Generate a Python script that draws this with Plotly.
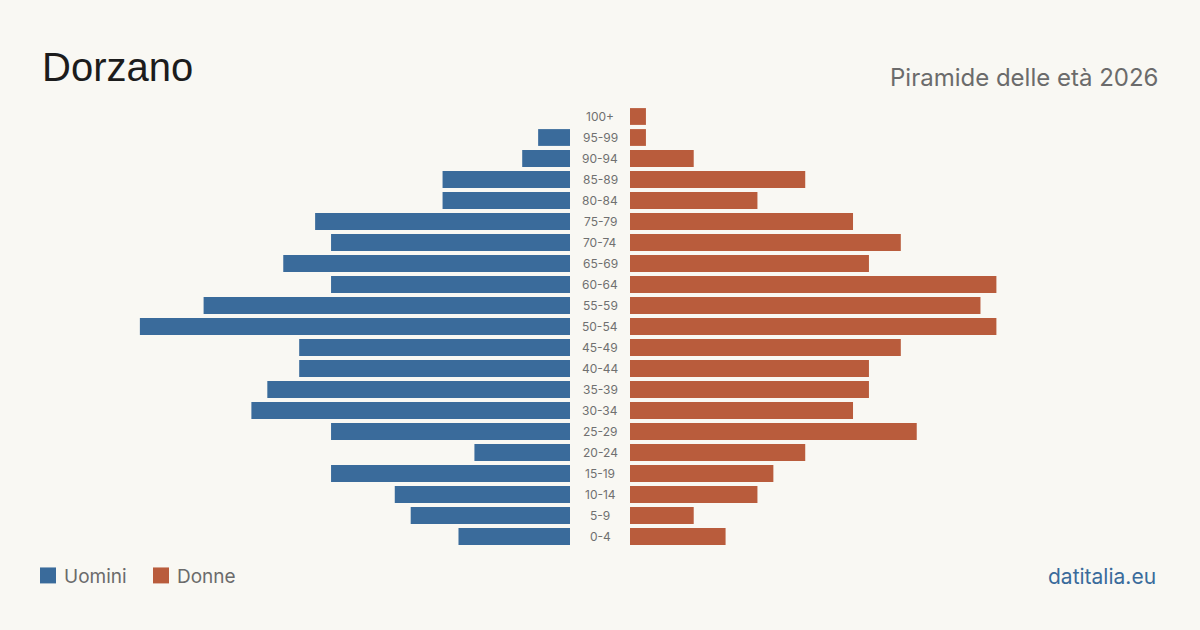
import plotly.graph_objects as go

ages = ["0-4", "5-9", "10-14", "15-19", "20-24", "25-29", "30-34", "35-39", "40-44",
        "45-49", "50-54", "55-59", "60-64", "65-69", "70-74", "75-79", "80-84",
        "85-89", "90-94", "95-99", "100+"]
uomini = [7, 10, 11, 15, 6, 15, 20, 19, 17, 17, 27, 23, 15, 18, 15, 16, 8, 8, 3, 2, 0]
donne = [6, 4, 8, 9, 11, 18, 14, 15, 15, 17, 23, 22, 23, 15, 17, 14, 8, 11, 4, 1, 1]

BLUE = "#3a6b9b"
RED = "#b95c3c"
BG = "#f9f8f3"
W, H = 1200, 630
TOP, BOT = 105.5, 547.5
XMAX = 33.27


def py(y):
    return (BOT - y) / (BOT - TOP)


fig = go.Figure()
fig.add_trace(go.Bar(y=ages, x=uomini, orientation="h", marker=dict(color=BLUE, line=dict(width=0)),
                     xaxis="x", yaxis="y", width=0.8, name="Uomini",
                     hovertemplate="%{y}: %{x}<extra>Uomini</extra>"))
fig.add_trace(go.Bar(y=ages, x=donne, orientation="h", marker=dict(color=RED, line=dict(width=0)),
                     xaxis="x2", yaxis="y", width=0.8, name="Donne",
                     hovertemplate="%{y}: %{x}<extra>Donne</extra>"))

annotations = []
for a in ages:
    annotations.append(dict(x=0.5, y=a, xref="paper", yref="y", text=a, showarrow=False,
                            font=dict(family="Inter", size=12, color="#707070"),
                            xanchor="center", yanchor="middle"))

annotations += [
    dict(x=40 / W, y=py(66), xref="paper", yref="paper", text="Dorzano", showarrow=False,
         xanchor="left", yanchor="middle", font=dict(family="Liberation Sans", size=40, color="#1c1c1c")),
    dict(x=1160 / W, y=py(77), xref="paper", yref="paper", text="Piramide delle età 2026",
         showarrow=False, xanchor="right", yanchor="middle",
         font=dict(family="Inter", size=24, color="#6b6b6b")),
    dict(x=62 / W, y=py(577), xref="paper", yref="paper", text="Uomini", showarrow=False,
         xanchor="left", yanchor="middle", font=dict(family="Inter", size=19, color="#6b6b6b")),
    dict(x=175 / W, y=py(577), xref="paper", yref="paper", text="Donne", showarrow=False,
         xanchor="left", yanchor="middle", font=dict(family="Inter", size=19, color="#6b6b6b")),
    dict(x=1158 / W, y=py(577), xref="paper", yref="paper", text="datitalia.eu", showarrow=False,
         xanchor="right", yanchor="middle", font=dict(family="Inter", size=21, color=BLUE)),
]

shapes = [
    dict(type="rect", xref="paper", yref="paper", x0=40 / W, x1=56 / W, y0=py(584), y1=py(568),
         fillcolor=BLUE, line_width=0),
    dict(type="rect", xref="paper", yref="paper", x0=153 / W, x1=169 / W, y0=py(584), y1=py(568),
         fillcolor=RED, line_width=0),
]

fig.update_layout(
    width=W, height=H,
    paper_bgcolor=BG, plot_bgcolor=BG,
    margin=dict(l=0, r=0, t=TOP, b=H - BOT, pad=0),
    showlegend=False,
    barmode="overlay",
    xaxis=dict(domain=[40 / W, 570 / W], range=[XMAX, 0], showgrid=False, zeroline=False,
               showticklabels=False, showline=False, fixedrange=True),
    xaxis2=dict(domain=[630 / W, 1160 / W], range=[0, XMAX], showgrid=False, zeroline=False,
                showticklabels=False, showline=False, fixedrange=True),
    yaxis=dict(categoryorder="array", categoryarray=ages, showgrid=False, zeroline=False,
               showticklabels=False, showline=False, range=[-0.5, len(ages) - 0.5], fixedrange=True),
    annotations=annotations,
    shapes=shapes,
)

fig.write_html("out.html")
